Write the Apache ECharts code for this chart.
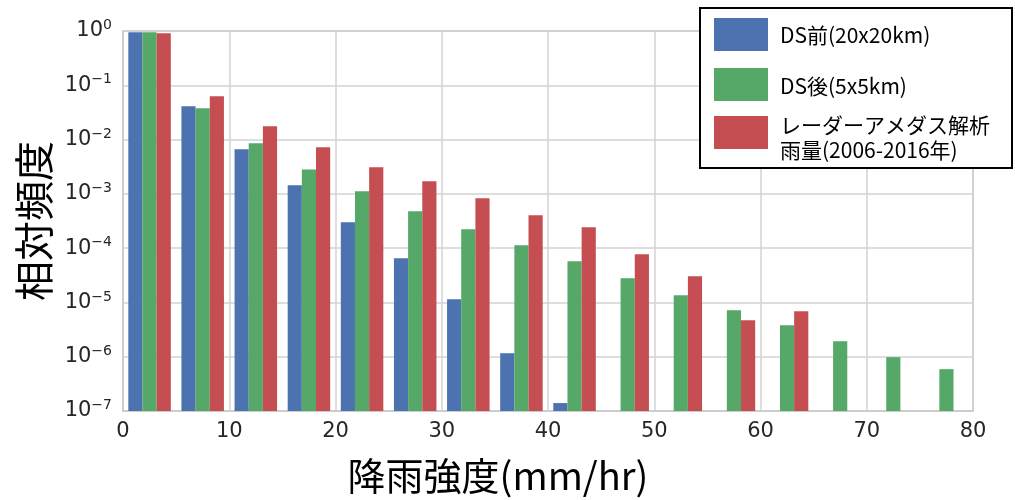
<!DOCTYPE html>
<html>
<head>
<meta charset="utf-8">
<script src="https://cdn.jsdelivr.net/npm/echarts@6/dist/echarts.min.js"></script>
<style>
html,body{margin:0;padding:0;background:#fff;}
#chart{width:1015px;height:500px;}
</style>
</head>
<body>
<div id="chart"></div>
<script>
// Bin start values of rainfall intensity (mm/hr), bin width 5
const binStarts = [0, 5, 10, 15, 20, 25, 30, 35, 40, 45, 50, 55, 60, 65, 70, 75];
// Relative frequency per bin
const dsBefore = [0.946, 0.041, 0.0066, 0.00144, 3.0e-4, 6.5e-5, 1.15e-5, 1.16e-6, 1.4e-7, null, null, null, null, null, null, null];
const dsAfter  = [0.946, 0.0377, 0.0086, 0.0028, 0.00112, 4.8e-4, 2.23e-4, 1.13e-4, 5.75e-5, 2.8e-5, 1.36e-5, 7.2e-6, 3.8e-6, 1.93e-6, 9.8e-7, 5.9e-7];
const radar    = [0.907, 0.0627, 0.0176, 0.0072, 0.0031, 0.0017, 8.3e-4, 4.04e-4, 2.43e-4, 7.7e-5, 3.04e-5, 4.7e-6, 6.9e-6, null, null, null];
const seriesNames = ['DS前(20x20km)', 'DS後(5x5km)', 'レーダーアメダス解析\n雨量(2006-2016年)'];
const xTicks = [0, 10, 20, 30, 40, 50, 60, 70, 80];

const colors = ['#4C72B0', '#55A868', '#C44E52'];
const Y_MIN = 1e-7;

function toData(arr) {
  const out = [];
  arr.forEach((v, i) => { if (v != null) out.push([binStarts[i], v]); });
  return out;
}

function makeRender(idx) {
  return function (params, api) {
    const b = api.value(0);
    const v = api.value(1);
    const w = 4 / 3;
    const x0 = b + 0.5 + idx * w;
    const pTop = api.coord([x0, v]);
    const pRight = api.coord([x0 + w, v]);
    const pBot = api.coord([x0, Y_MIN]);
    return {
      type: 'rect',
      shape: { x: pTop[0], y: pTop[1], width: pRight[0] - pTop[0], height: pBot[1] - pTop[1] },
      style: { fill: colors[idx] }
    };
  };
}

const chart = echarts.init(document.getElementById('chart'), null, { renderer: 'canvas' });
const seriesData = [dsBefore, dsAfter, radar];

const legendTop = [18, 68, 116];
const legendTextY = [35, 86, 113];
const legendGraphics = [{
  type: 'rect', shape: { x: 700, y: 8, width: 312, height: 160 },
  style: { fill: '#fff', stroke: '#000', lineWidth: 2 }, z: 100
}];
seriesNames.forEach((n, i) => {
  legendGraphics.push({
    type: 'rect', shape: { x: 714, y: legendTop[i], width: 54, height: 33 },
    style: { fill: colors[i] }, z: 101
  });
  legendGraphics.push({
    type: 'text', x: 780, y: legendTextY[i],
    style: {
      text: n, fill: '#000', font: '21px "Noto Sans CJK JP"',
      verticalAlign: i === 2 ? 'top' : 'middle',
      lineHeight: 25
    }, z: 101
  });
});

chart.setOption({
  animation: false,
  textStyle: { fontFamily: 'DejaVu Sans' },
  grid: { left: 123, right: 42, top: 31, bottom: 88, show: true, borderColor: '#cccccc', borderWidth: 2, backgroundColor: 'transparent' },
  xAxis: {
    type: 'value', min: 0, max: 80, interval: 10,
    name: '降雨強度(mm/hr)', nameLocation: 'middle', nameGap: 46,
    nameTextStyle: { fontFamily: 'Noto Sans CJK JP', fontSize: 38, color: '#000', padding: [0, 100, 0, 0] },
    axisLine: { show: true, lineStyle: { color: '#cccccc', width: 2 } },
    axisTick: { show: false },
    axisLabel: { fontSize: 21, color: '#262626', margin: 10, fontFamily: 'DejaVu Sans',
      formatter: v => xTicks.includes(v) ? String(v) : '' },
    splitLine: { show: true, lineStyle: { color: '#d3d3d3', width: 1.5 } }
  },
  yAxis: {
    type: 'log', logBase: 10, min: Y_MIN, max: 1, splitNumber: 7,
    name: '相対頻度', nameLocation: 'middle', nameGap: 69,
    nameTextStyle: { fontFamily: 'Noto Sans CJK JP', fontSize: 40, color: '#000' },
    axisLine: { show: true, lineStyle: { color: '#cccccc', width: 2 } },
    axisTick: { show: false },
    axisLabel: {
      margin: 11, color: '#262626',
      formatter: function (v) {
        const e = Math.round(Math.log10(v));
        return '{b|10}{s|' + (e < 0 ? '\u2212' + (-e) : String(e)) + '}';
      },
      rich: {
        b: { fontSize: 21, lineHeight: 25, color: '#262626', fontFamily: 'DejaVu Sans' },
        s: { fontSize: 14, lineHeight: 15, verticalAlign: 'top', color: '#262626', fontFamily: 'DejaVu Sans' }
      }
    },
    splitLine: { show: true, lineStyle: { color: '#d3d3d3', width: 1.5 } }
  },
  series: seriesData.map((arr, i) => ({
    type: 'custom', name: seriesNames[i],
    renderItem: makeRender(i),
    encode: { x: 0, y: 1 },
    data: toData(arr),
    clip: true
  })),
  graphic: legendGraphics
});
</script>
</body>
</html>
